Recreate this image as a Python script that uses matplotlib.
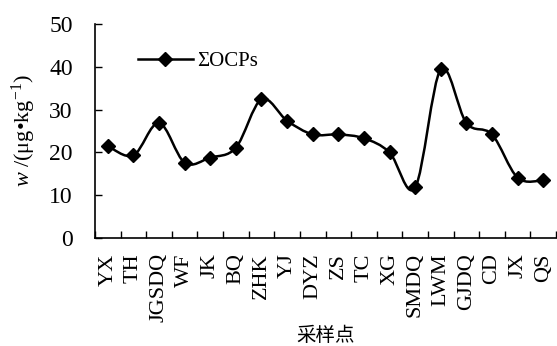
import numpy as np
import matplotlib
matplotlib.use("Agg")
import matplotlib.pyplot as plt
from matplotlib.path import Path
from matplotlib.patches import PathPatch
from matplotlib.lines import Line2D

sites = ["YX", "TH", "JGSDQ", "WF", "JK", "BQ", "ZHK", "YJ", "DYZ", "ZS",
         "TC", "XG", "SMDQ", "LWM", "GJDQ", "CD", "JX", "QS"]
ocps = [21.5, 19.3, 26.9, 17.6, 18.8, 21.1, 32.4, 27.4, 24.2, 24.2,
        23.3, 20.0, 11.8, 39.4, 26.9, 24.2, 14.1, 13.5]
yticks = [0, 10, 20, 30, 40, 50]

plt.rcParams['font.family'] = ['Liberation Serif', 'DejaVu Serif']
plt.rcParams['mathtext.fontset'] = 'custom'
plt.rcParams['mathtext.rm'] = 'Liberation Serif'
plt.rcParams['mathtext.it'] = 'Liberation Serif:italic'

fig = plt.figure(figsize=(5.57, 3.46), dpi=100)
ax = fig.add_axes([95/557, 1-238/346, 461/557, (238-24)/346])

x = np.arange(len(sites), dtype=float)
y = np.array(ocps, dtype=float)

# Excel-style smoothed line (Bezier with Catmull-Rom control points)
verts = [(x[0], y[0])]
codes = [Path.MOVETO]
n = len(x)
for i in range(n - 1):
    p0 = np.array([x[max(i-1, 0)], y[max(i-1, 0)]])
    p1 = np.array([x[i], y[i]])
    p2 = np.array([x[i+1], y[i+1]])
    p3 = np.array([x[min(i+2, n-1)], y[min(i+2, n-1)]])
    c1 = p1 + (p2 - p0) / 6
    c2 = p2 - (p3 - p1) / 6
    verts += [tuple(c1), tuple(c2), tuple(p2)]
    codes += [Path.CURVE4] * 3
ax.add_patch(PathPatch(Path(verts, codes), facecolor='none', edgecolor='black', lw=1.8, zorder=2))
ax.plot(x, y, linestyle='none', marker='D', markersize=7, color='black', zorder=3)

ax.set_xlim(-0.5, n - 0.5)
ax.set_ylim(0, 50)
ax.set_yticks(yticks)
ax.set_yticklabels([str(v) for v in yticks], fontsize=17)
ax.set_xticks(x)
ax.set_xticklabels(sites, rotation=90, fontsize=16)
ax.set_xticks(np.arange(n + 1) - 0.5, minor=True)
ax.tick_params(axis='x', which='major', length=0, pad=11)
ax.tick_params(axis='x', which='minor', direction='in', length=5, width=1)
ax.tick_params(axis='y', direction='in', length=5, width=1, pad=16)
for s in ['top', 'right']:
    ax.spines[s].set_visible(False)
for s in ['left', 'bottom']:
    ax.spines[s].set_linewidth(1.2)

ax.set_ylabel(r'$w$ /(μg•kg$^{\mathrm{-1}}$)', fontsize=16, labelpad=8)
ax.set_xlabel('采样点', fontsize=14, family=['Noto Sans CJK SC'], labelpad=2)

h = Line2D([], [], color='black', lw=1.8, marker='D', markersize=7)
ax.legend([h], ['ΣOCPs'], loc='upper left', bbox_to_anchor=(0.085, 0.89),
          frameon=False, fontsize=15, handlelength=2.6, handletextpad=0.2,
          borderpad=0.2, borderaxespad=0)

fig.savefig('out.png', dpi=100)
